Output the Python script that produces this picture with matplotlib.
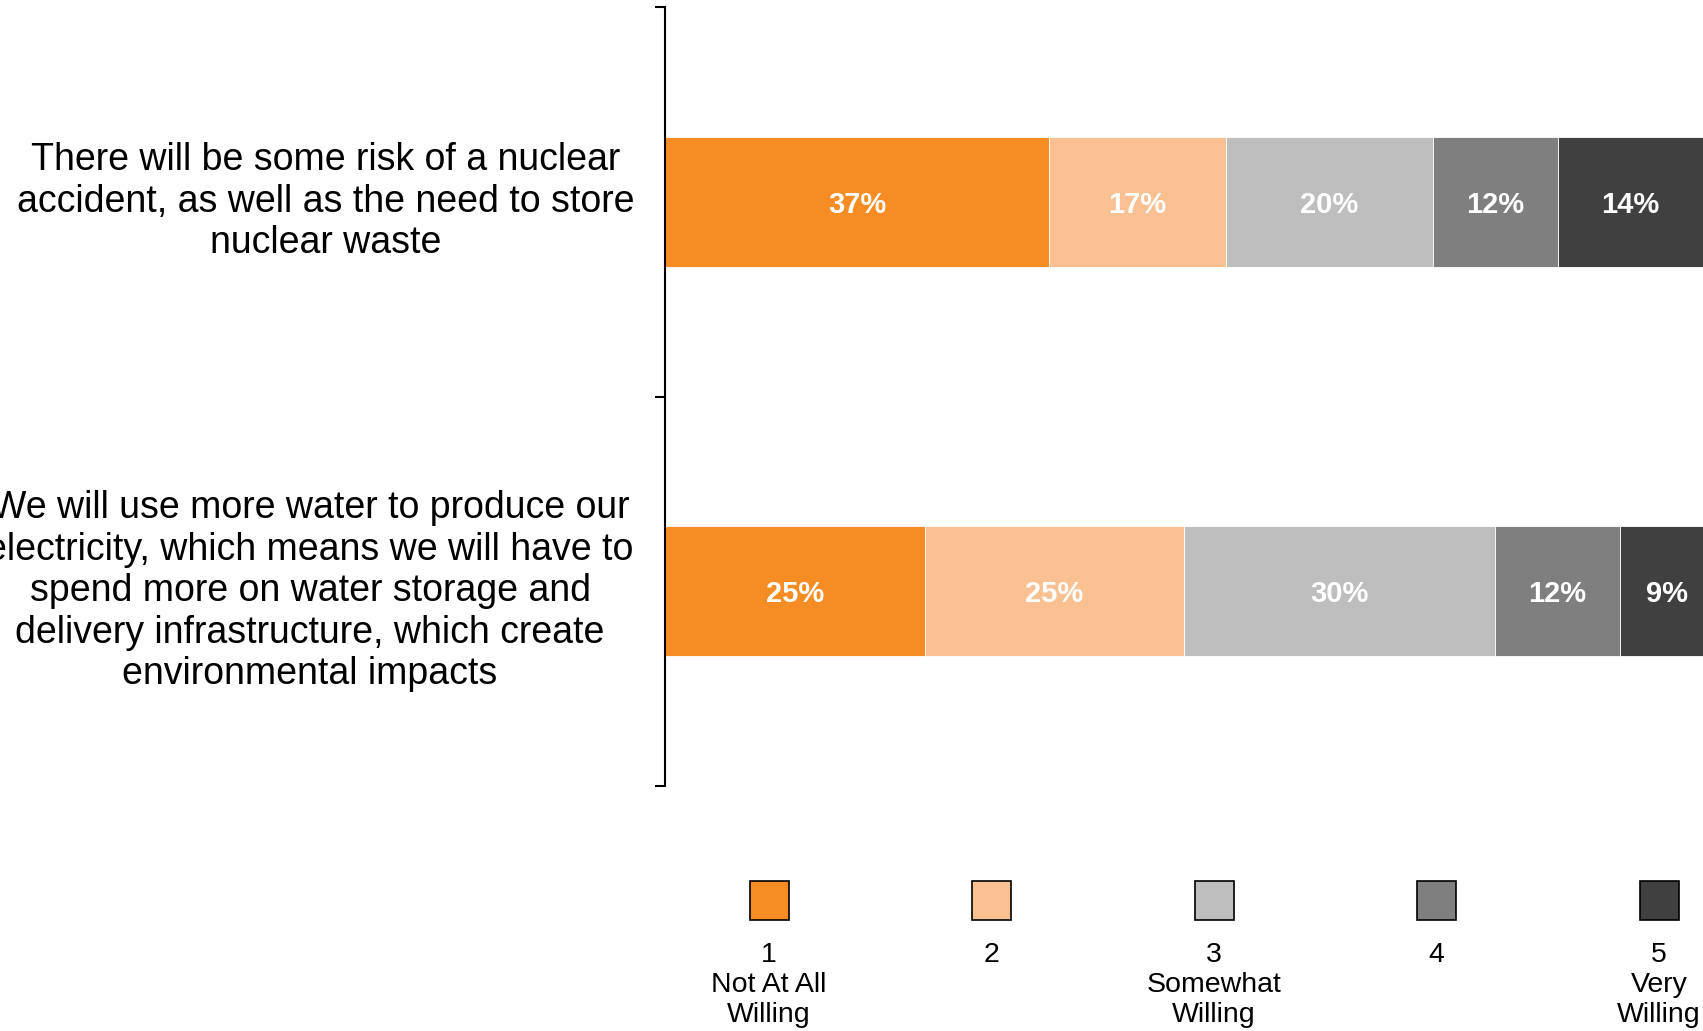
import matplotlib.pyplot as plt
import matplotlib.transforms as mtransforms
from matplotlib.patches import Rectangle

plt.rcParams['font.family'] = ['Liberation Sans', 'DejaVu Sans']

# Survey statements (top to bottom) and share of answers per willingness level
statements = [
    'There will be some risk of a nuclear\naccident, as well as the need to store\nnuclear waste',
    'We will use more water to produce our\nelectricity, which means we will have to\nspend more on water storage and\ndelivery infrastructure, which create\nenvironmental impacts',
]
levels = ['1\nNot At All\nWilling', '2', '3\nSomewhat\nWilling', '4', '5\nVery\nWilling']
nuclear = [37, 17, 20, 12, 14]
water = [25, 25, 30, 12, 9]
colors = ['#F68D24', '#F9C092', '#BEBEBE', '#7F7F7F', '#404040']

W, H = 1703, 1031
fig = plt.figure(figsize=(W / 100, H / 100), dpi=100)
ax = fig.add_axes([665 / W, 1 - 786 / H, 1 - 665 / W, (786 - 7) / H])

ypos = [1, 0]
rows = [nuclear, water]
for y, vals in zip(ypos, rows):
    left = 0
    for v, c in zip(vals, colors):
        ax.barh(y, v, left=left, height=0.335, color=c, edgecolor='white', linewidth=0.6)
        ax.text(left + v / 2, y, f'{v}%', ha='center', va='center_baseline',
                color='white', fontsize=21, fontweight='bold')
        left += v

ax.set_xlim(0, 100)
ax.set_ylim(-0.5, 1.5)
ax.set_xticks([])
for s in ['top', 'right', 'bottom']:
    ax.spines[s].set_visible(False)
ax.spines['left'].set_linewidth(1.5)

# boundary ticks between the categories only
ax.set_yticks([])
ax.set_yticks([-0.5, 0.5, 1.5], minor=True)
ax.tick_params(axis='y', which='minor', length=7, width=1.5)

# statement text centred in the space left of the axis
lab_trans = mtransforms.blended_transform_factory(fig.transFigure, ax.transData)
for y, txt, cx in zip(ypos, statements, [326, 310]):
    ax.text(cx / W, y, txt, transform=lab_trans, ha='center', va='center',
            multialignment='center', fontsize=27, linespacing=1.2)

# legend: swatch with level text underneath
for i, (lab, c) in enumerate(zip(levels, colors)):
    cx = 769 + i * 222.5
    fig.add_artist(Rectangle(((cx - 19.5) / W, 1 - 920 / H), 39 / W, 39 / H,
                             transform=fig.transFigure, facecolor=c,
                             edgecolor='black', linewidth=1.2))
    fig.text(cx / W, 1 - 942 / H, lab, ha='center', va='top', fontsize=20.5,
             linespacing=1.2)

fig.savefig('out.png', dpi=100)
